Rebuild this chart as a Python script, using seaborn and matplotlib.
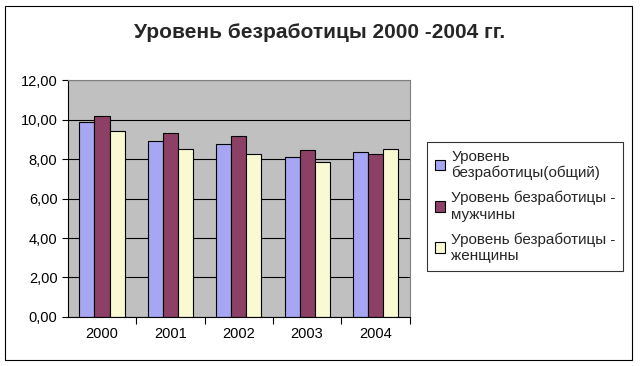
import matplotlib
matplotlib.use("Agg")
import matplotlib.pyplot as plt
import seaborn as sns
import pandas as pd
from matplotlib.patches import Rectangle
from matplotlib.ticker import FuncFormatter

years = ["2000", "2001", "2002", "2003", "2004"]
total = [9.9, 8.9, 8.75, 8.12, 8.37]
men = [10.2, 9.32, 9.15, 8.44, 8.27]
women = [9.42, 8.49, 8.24, 7.85, 8.49]
series_names = ["Уровень\nбезработицы(общий)",
                "Уровень безработицы -\nмужчины",
                "Уровень безработицы -\nженщины"]
colors = ["#9999FF", "#993366", "#FFFFCC"]

rows = []
for name, vals in zip(series_names, [total, men, women]):
    for y, v in zip(years, vals):
        rows.append({"year": y, "value": v, "series": name})
df = pd.DataFrame(rows)

sns.set_theme(style="white")
plt.rcParams['font.family'] = ['Liberation Sans', 'DejaVu Sans']

fig = plt.figure(figsize=(6.4, 3.66), dpi=100)
ax = fig.add_axes([0.106, 0.134, 0.534, 0.647])
ax.set_facecolor("#C0C0C0")

sns.barplot(data=df, x="year", y="value", hue="series", palette=colors,
            width=0.66, edgecolor="black", linewidth=0.8, ax=ax, legend=True)

ax.set_ylim(0, 12)
ax.set_yticks([0, 2, 4, 6, 8, 10, 12])
ax.yaxis.set_major_formatter(FuncFormatter(lambda v, p: f"{v:.2f}".replace(".", ",")))
ax.set_axisbelow(True)
ax.yaxis.grid(True, color="black", linewidth=0.8)
ax.set_xlabel("")
ax.set_ylabel("")
for s in ax.spines.values():
    s.set_color("#808080")
    s.set_linewidth(0.8)
ax.spines["left"].set_color("black")
ax.spines["bottom"].set_color("black")
ax.tick_params(axis="both", labelsize=10.5, colors="black", length=4, width=0.8,
               direction="out", left=True, bottom=False)
ax.set_xticks([i + 0.5 for i in range(5)], minor=True)
ax.tick_params(axis="x", which="minor", length=5, width=0.8, bottom=True, color="black")

handles, labels = ax.get_legend_handles_labels()
ax.legend_.remove()
leg = fig.legend(handles, labels, loc="upper left", bbox_to_anchor=(427/640, 1 - 142/366),
                 frameon=True, fancybox=False, edgecolor="black", fontsize=11,
                 handlelength=0.7, handleheight=0.7, handletextpad=0.4,
                 labelspacing=0.7, borderpad=0.5, borderaxespad=0)
leg.get_frame().set_linewidth(0.8)

fig.text(0.5, 1 - 32/366, "Уровень безработицы 2000 -2004 гг.", ha="center", va="center",
         fontsize=15, fontweight="bold")

fig.patches.append(Rectangle((5/640, 6/366), 627/640, 354/366, transform=fig.transFigure,
                             fill=False, edgecolor="black", linewidth=0.8))

fig.savefig("out.png", dpi=100, facecolor="white")
